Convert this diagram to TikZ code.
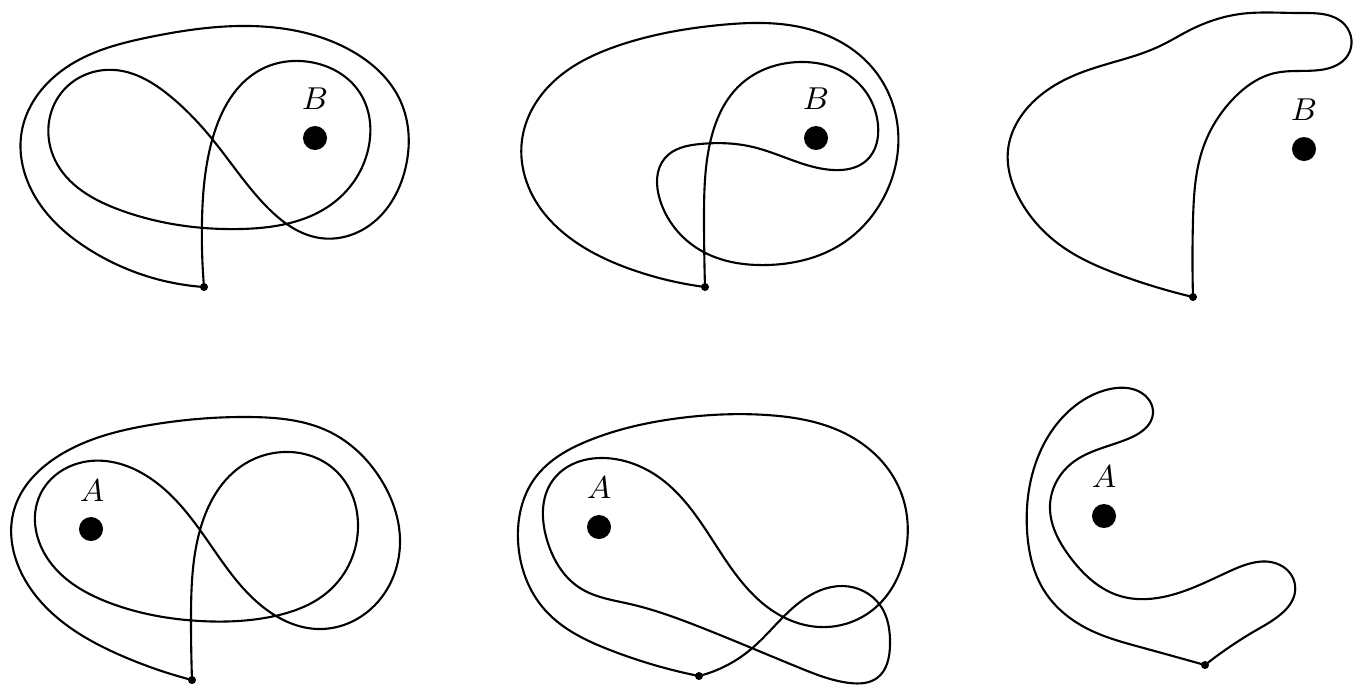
\documentclass[tikz,border=0pt]{standalone}
\usepackage{tikz}
\usetikzlibrary{positioning,hobby}

\begin{document}
\begin{tikzpicture}[
        x=0.01cm, y=-0.01cm,
        lazo/.style={line width=0.6pt, draw=black, line join=round},
        curva/.style={lazo, use Hobby shortcut},
        base/.style={circle, fill=black, inner sep=0pt, minimum size=0.08cm},
        marca/.style={circle, fill=black, inner sep=0pt, minimum size=0.24cm},
        etiqueta/.style={font=\fontsize{9.5}{11}\selectfont, inner sep=1pt}
    ]
        \useasboundingbox (0,0) rectangle (1361,684);

        % Panel superior izquierdo
        \node[base] (o1) at (204,287) {};
        \node[marca] (puntoB1) at (315,138) {};
        \node[etiqueta] (etqB1) at (315,99) {$B$};
        \draw[curva] (o1.center) .. (202,220) .. (213,137) .. (260,70) .. (310,62)
            .. (360,93) .. (368,150) .. (337,200) .. (240,229) .. (120,210) .. (55,160)
            .. (62,92) .. (115,70) .. (170,96) .. (213,140) .. (267,207) .. (320,238)
            .. (370,225) .. (405,170) .. (400,100) .. (350,50) .. (250,26) .. (150,37)
            .. (70,65) .. (22,130) .. (33,193) .. (90,250) .. (o1.center);

        % Panel superior central
        \node[base] (o2) at (705,287) {};
        \node[marca] (puntoB2) at (816,138) {};
        \node[etiqueta] (etqB2) at (816,99) {$B$};
        \draw[curva] (o2.center) .. (704,220) .. (710,143) .. (740,85) .. (800,62)
            .. (855,80) .. (878,125) .. (867,160) .. (833,170) .. (753,147) .. (700,144)
            .. (665,158) .. (660,200) .. (700,250) .. (767,265) .. (840,245) .. (885,195)
            .. (898,130) .. (870,65) .. (800,27) .. (720,25) .. (620,45) .. (550,85)
            .. (522,140) .. (535,200) .. (577,243) .. (633,270) .. (o2.center);

        % Panel superior derecho
        \node[base] (o3) at (1193,297) {};
        \node[marca] (puntoB3) at (1304,149) {};
        \node[etiqueta] (etqB3) at (1304,110) {$B$};
        \draw[curva] (o3.center) .. (1193,220) .. (1203,148) .. (1233,99) .. (1275,73)
            .. (1320,70) .. (1348,55) .. (1345,25) .. (1300,13) .. (1240,14) .. (1190,30)
            .. (1160,46) .. (1080,73) .. (1030,105) .. (1008,150) .. (1020,200)
            .. (1060,245) .. (1120,275) .. (o3.center);

        % Panel inferior izquierdo
        \node[base] (o4) at (192,680) {};
        \node[marca] (puntoA4) at (91,529) {};
        \node[etiqueta] (etqA4) at (92,491) {$A$};
        \draw[curva] (o4.center) .. (191,620) .. (200,530) .. (240,467) .. (283,452)
            .. (335,470) .. (358,527) .. (330,590) .. (270,617) .. (200,621) .. (110,603)
            .. (50,562) .. (40,495) .. (90,461) .. (140,472) .. (200,530) .. (263,607)
            .. (320,629) .. (375,605) .. (400,540) .. (380,478) .. (330,432) .. (250,417)
            .. (150,425) .. (60,455) .. (14,510) .. (20,570) .. (60,620) .. (120,655)
            .. (o4.center);

        % Panel inferior central
        \node[base] (o5) at (699,676) {};
        \node[marca] (puntoA5) at (599,527) {};
        \node[etiqueta] (etqA5) at (599,488) {$A$};
        \draw[curva] (o5.center) .. (750,650) .. (800,602) .. (843,586) .. (880,605)
            .. (890,645) .. (877,678) .. (850,683) .. (800,668) .. (700,627) .. (630,604)
            .. (580,588) .. (547,540) .. (553,480) .. (615,459) .. (660,478) .. (717,547)
            .. (770,609) .. (820,627) .. (875,608) .. (905,555) .. (900,490) .. (850,436)
            .. (767,415) .. (680,418) .. (590,440) .. (535,478) .. (518,540) .. (545,610)
            .. (610,650) .. (o5.center);

        % Panel inferior derecho
        \node[base] (o6) at (1205,665) {};
        \node[marca] (puntoA6) at (1104,516) {};
        \node[etiqueta] (etqA6) at (1104,477) {$A$};
        \draw[curva] (o6.center) .. (1260,628) .. (1295,585) .. (1280,565) .. (1230,571)
            .. (1163,597) .. (1120,596) .. (1070,557) .. (1050,505) .. (1072,463)
            .. (1130,438) .. (1153,413) .. (1140,392) .. (1110,389) .. (1070,410)
            .. (1035,465) .. (1027,530) .. (1045,592) .. (1090,630) .. (1140,647)
            .. (o6.center);
    \end{tikzpicture}
\end{document}
